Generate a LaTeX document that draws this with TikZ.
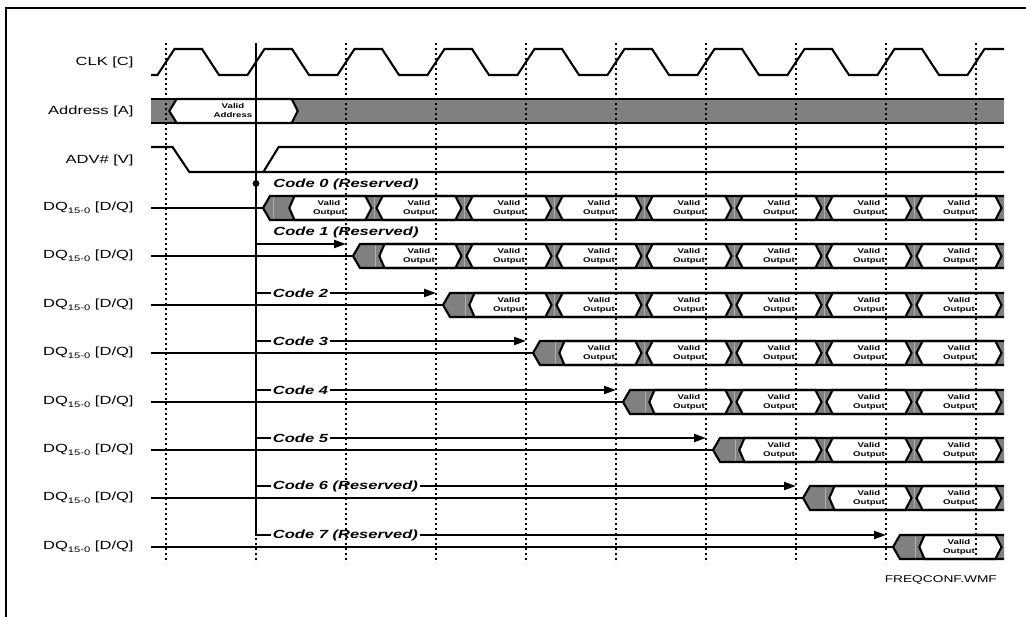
\documentclass[tikz,border=0pt]{standalone}
\usepackage{fontspec}
\setmainfont{Liberation Sans}
\usetikzlibrary{arrows.meta}
\definecolor{busgray}{gray}{0.5}
\definecolor{faint}{gray}{0.68}
\begin{document}
\begin{tikzpicture}[x=1pt,y=-1pt,line width=2.1pt,line join=miter,
  lbl/.style={inner sep=0pt,anchor=east,xscale=1.4,font=\fontsize{11.8}{13}\selectfont},
  codelbl/.style={inner sep=0pt,anchor=west,xscale=1.4,font=\fontsize{11.8}{13}\bfseries\itshape\selectfont},
  vtxt/.style={inner sep=0pt,align=center,xscale=1.4,font=\fontsize{6.9}{9.4}\bfseries\selectfont},
  dotline/.style={line width=2pt,dash pattern=on 2pt off 3pt},
  arr/.style={-{Triangle[length=12pt,width=8pt]}},
  faintline/.style={draw=faint,line width=0.8pt}]
\useasboundingbox (0,0) rectangle (1026,617);
% frame
\draw[line width=2pt] (6,617) -- (6,8) -- (1026,8);
% row labels
\node[lbl] (lclk) at (135,62) {CLK [C]};
\node[lbl] (ladr) at (135,111) {Address [A]};
\node[lbl] (ladv) at (135,160) {ADV\# [V]};
% CLK
\draw (151,75) foreach \k in {0,...,8} {
   -- ({166+90*\k-8.5},75) -- ({166+90*\k+8.5},49) -- ({166+90*\k+36},49) -- ({166+90*\k+53},75)}
   -- (967.5,75) -- (984.5,49) -- (1004,49);
% Address
\fill[busgray] (151,99) rectangle (1004,123);
\filldraw[fill=white] (169.3,111) -- (176.7,99) -- (291.7,99) -- (297.7,111) -- (291.7,123) -- (176.7,123) -- cycle;
\draw (151,99) -- (1004,99);
\draw (151,123) -- (1004,123);
\node[vtxt] (vadr) at (233,110.5) {Valid\\Address};
% ADV
\draw (151,147) -- (172.5,147) -- (189.3,172) -- (1004,172);
\draw (263.3,172) -- (278.7,147) -- (1004,147);
% DQ rows
\foreach \n/\ym in {0/208,1/256,2/305,3/353,4/402,5/450,6/498,7/547}{
  \pgfmathsetmacro\yt{\ym-12}
  \pgfmathsetmacro\yb{\ym+12}
  \pgfmathsetmacro\s{263+90*\n}
  \node[lbl] (dq\n) at (135,\ym) {DQ\raisebox{-3.2pt}{\fontsize{8}{8}\selectfont 15-0} [D/Q]};
  \draw (151,\ym) -- (\s,\ym);
  \fill[busgray] (\s,\ym) -- (\s+7,\yt) -- (1004,\yt) -- (1004,\yb) -- (\s+7,\yb) -- cycle;
  \ifnum\n=0
    \draw[faintline] (273,\yt) -- (273,\yb);
  \else
    \draw[faintline] ({285.7+90*\n},\yt) -- ({285.7+90*\n},\yb);
  \fi
  \foreach \k in {\n,...,7}{
    \pgfmathsetmacro\ck{374+90*\k}
    \ifnum\k=\n
      \pgfmathsetmacro\lp{289.3+90*\n}
      \pgfmathsetmacro\lc{294.5+90*\n}
    \else
      \pgfmathsetmacro\lp{\ck-90+2.5}
      \pgfmathsetmacro\lc{\ck-90+8.7}
      \draw[faintline] (\ck-90,\yt) -- (\ck-90,\yb);
    \fi
    \pgfmathsetmacro\rp{\ck-2.5}
    \pgfmathsetmacro\rc{\ck-8.7}
    \filldraw[fill=white] (\lp,\ym) -- (\lc,\yt) -- (\rc,\yt) -- (\rp,\ym) -- (\rc,\yb) -- (\lc,\yb) -- cycle;
    \node[vtxt] (v\n-\k) at ({\ck-45},\ym) {Valid\\Output};
  }
  \draw (1004,\yt) -- (\s+7,\yt) -- (\s,\ym) -- (\s+7,\yb) -- (1004,\yb);
}
% reference vertical line
\coordinate (vtop) at (256,43);
\coordinate (vbot) at (256,535);
\draw (vtop) -- (vbot);
% code 0
\fill (256,183.5) circle (3.4);
\node[codelbl] (code0) at (272,184) {Code 0 (Reserved)};
% code 1
\coordinate (a1s) at (256,244);
\coordinate (a1e) at (346,244);
\draw[arr] (a1s) -- (a1e);
\node[codelbl] (code1) at (272,232) {Code 1 (Reserved)};
% codes 2..7
\foreach \n/\ya/\t in {2/293/Code 2,3/341/Code 3,4/390/Code 4,5/438/Code 5,6/486/Code 6 (Reserved),7/535/Code 7 (Reserved)}{
  \coordinate (a\n s) at (255,\ya);
  \coordinate (a\n e) at ({256+90*\n},\ya);
  \draw[arr] (a\n s) -- (a\n e);
  \node[codelbl,fill=white,inner xsep=1.4pt] (code\n) at (269.5,\ya) {\t};
}
% dotted clock reference lines
\foreach \k in {0,...,9}{
  \draw[dotline] ({166+90*\k},43) -- ({166+90*\k},563);
}
\node[inner sep=0pt,anchor=east,xscale=1.4,font=\fontsize{9.8}{11}\selectfont] (fname) at (998.3,580) {FREQCONF.WMF};
\end{tikzpicture}
\end{document}
